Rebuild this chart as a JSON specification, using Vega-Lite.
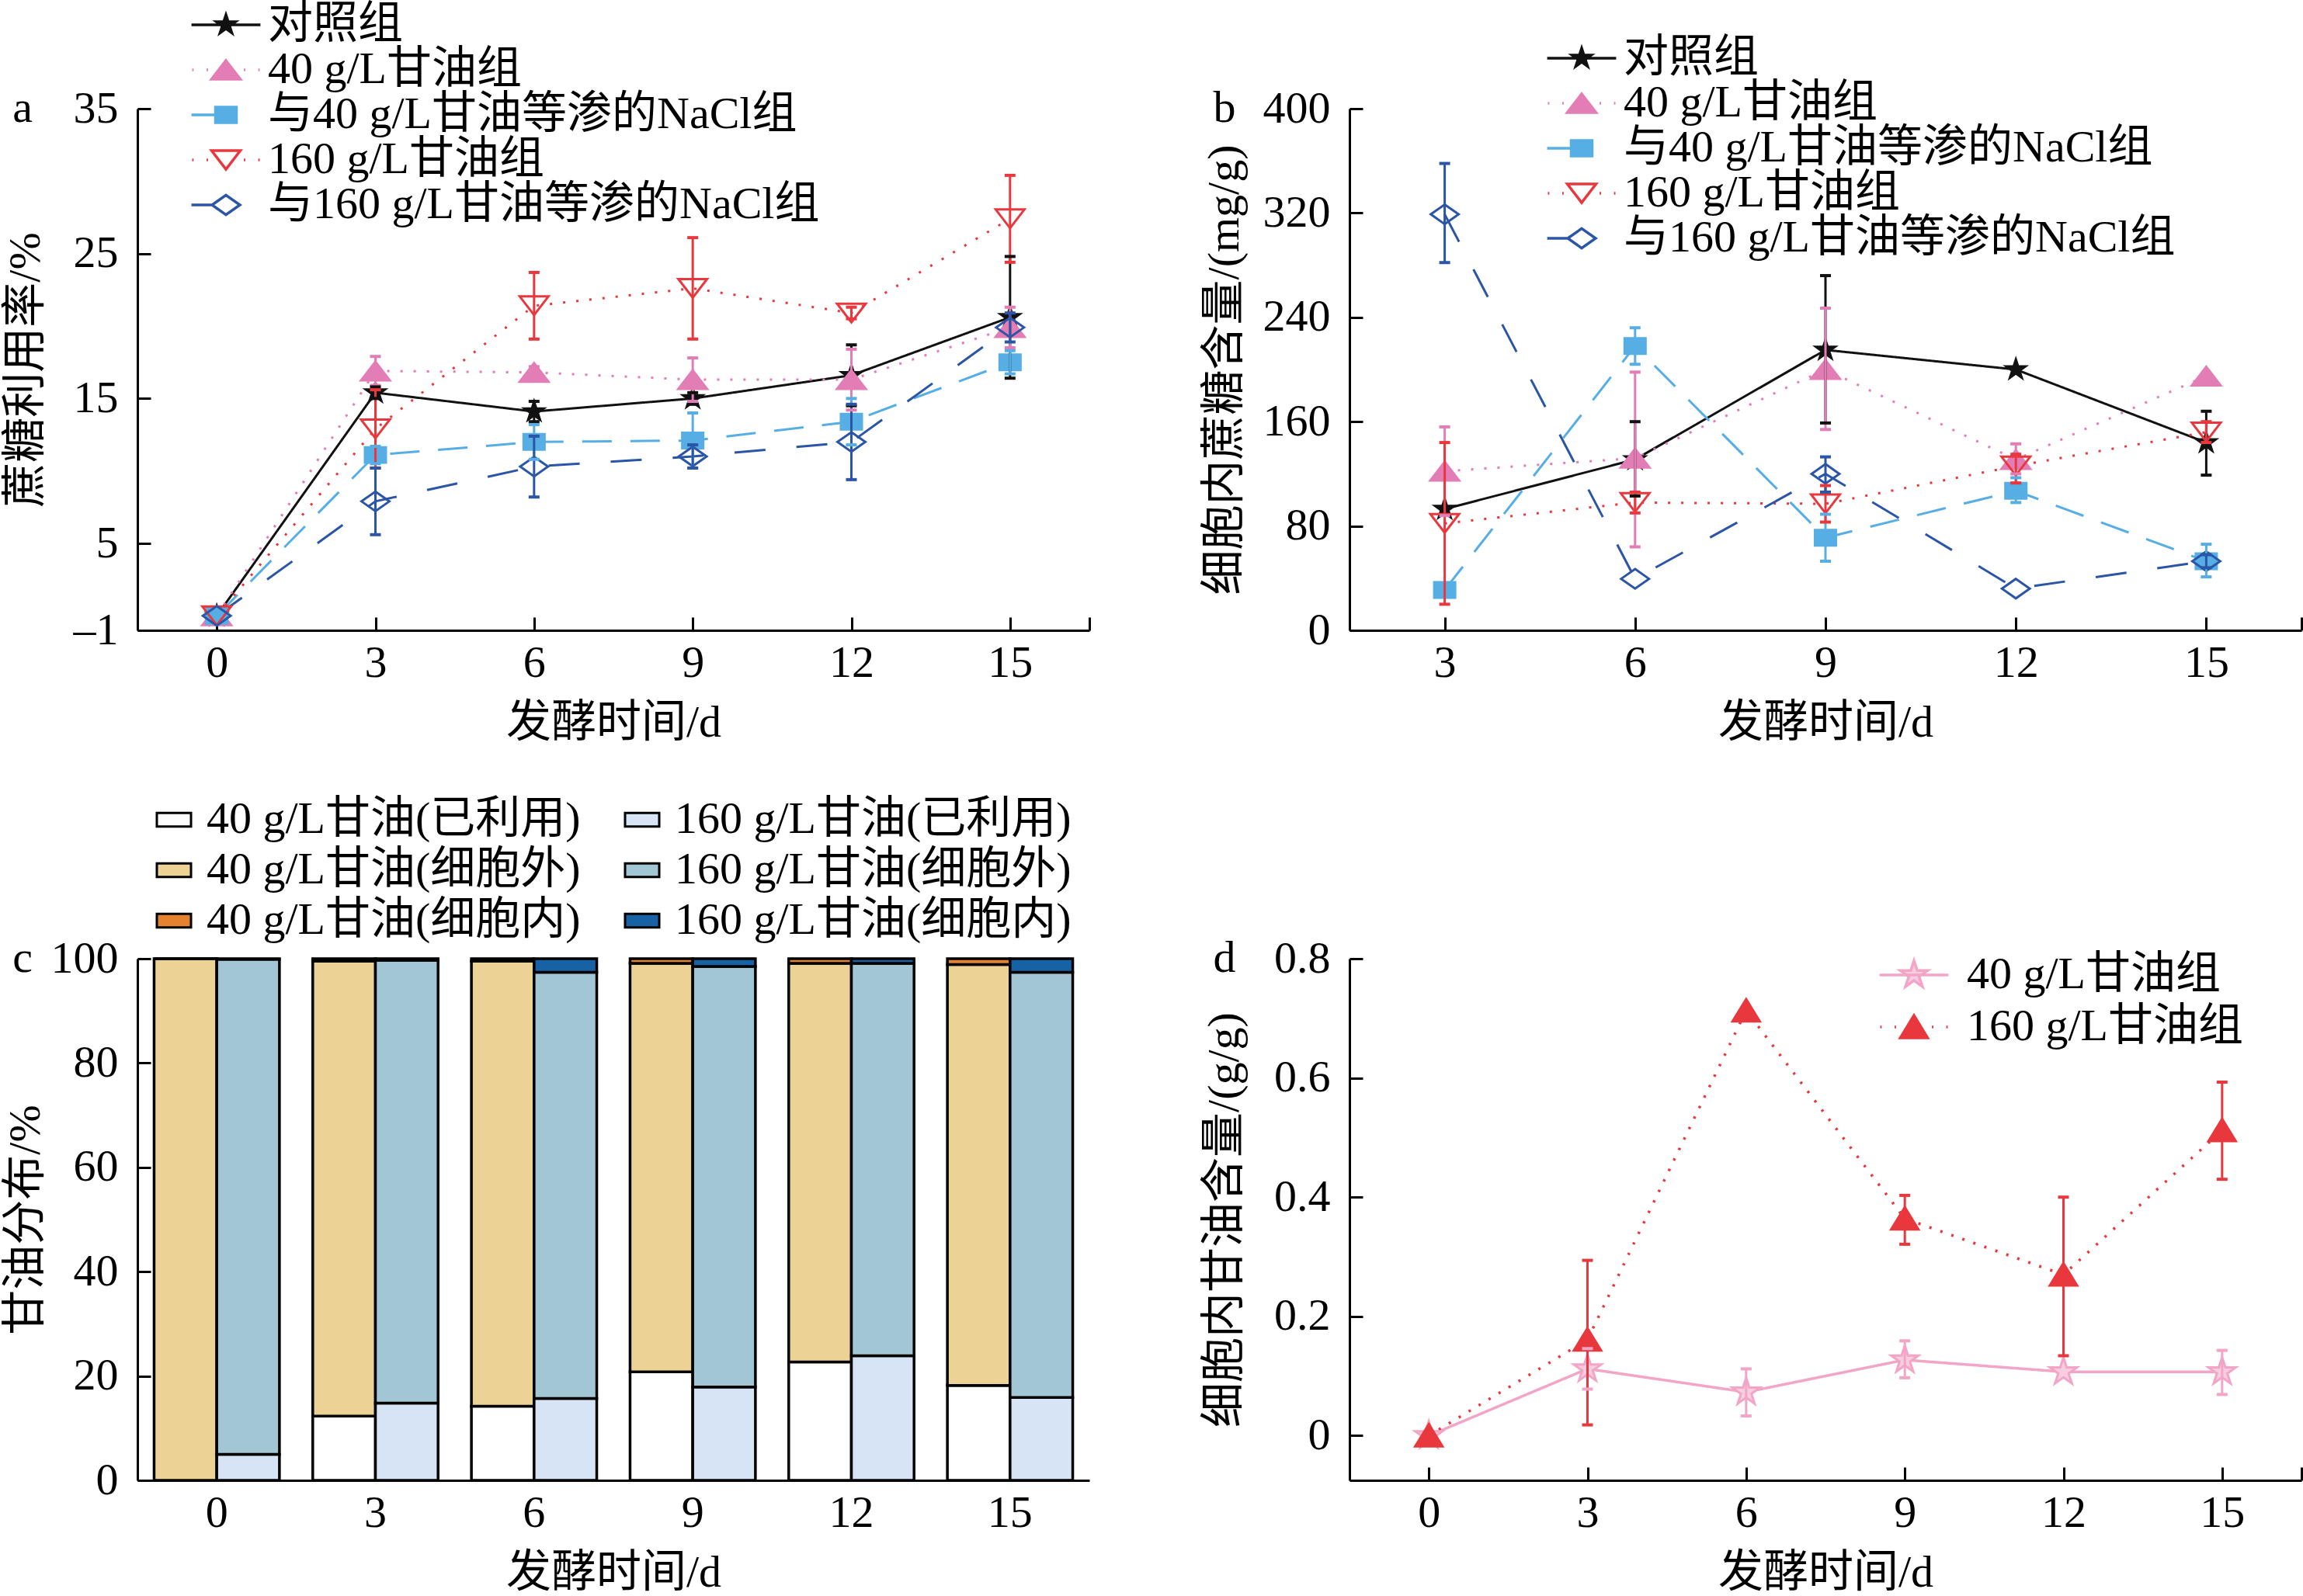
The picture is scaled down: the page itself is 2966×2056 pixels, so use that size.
{
  "$schema": "https://vega.github.io/schema/vega-lite/v6.json",
  "padding": {"left": 4, "top": 3, "right": 0, "bottom": 0},
  "config": {
    "font": "Liberation Serif, Noto Sans CJK SC",
    "view": {"stroke": null},
    "axis": {
      "domainColor": "black", "domainWidth": 3, "tickColor": "black", "tickWidth": 3, "tickSize": -17,
      "labelFont": "Liberation Serif, Noto Sans CJK SC", "labelFontSize": 58, "labelColor": "black",
      "titleFont": "Liberation Serif, Noto Sans CJK SC", "titleFontSize": 58, "titleFontWeight": "normal", "titleColor": "black",
      "grid": false, "labelFlush": false, "labelOverlap": false
    },
    "axisX": {"labelPadding": 30, "titlePadding": 19, "labelAngle": 0},
    "axisY": {"labelPadding": 42},
    "legend": {"labelFont": "Liberation Serif, Noto Sans CJK SC", "labelFontSize": 58, "labelColor": "black", "labelLimit": 0, "padding": 0, "title": null},
    "title": {"font": "Liberation Serif, Noto Sans CJK SC", "fontSize": 58, "fontWeight": "normal", "color": "black"}
  },
  "datasets": {
    "sa": [
      {"d": 0, "g": "对照组", "v": 0, "lo": null, "hi": null},
      {"d": 3, "g": "对照组", "v": 15.4, "lo": 15.0, "hi": 15.8},
      {"d": 6, "g": "对照组", "v": 14.1, "lo": 13.4, "hi": 14.8},
      {"d": 9, "g": "对照组", "v": 15.0, "lo": 14.6, "hi": 15.4},
      {"d": 12, "g": "对照组", "v": 16.6, "lo": 14.5, "hi": 18.7},
      {"d": 15, "g": "对照组", "v": 20.6, "lo": 16.4, "hi": 24.8},
      {"d": 0, "g": "40 g/L甘油组", "v": 0, "lo": null, "hi": null},
      {"d": 3, "g": "40 g/L甘油组", "v": 16.9, "lo": 15.9, "hi": 17.9},
      {"d": 6, "g": "40 g/L甘油组", "v": 16.8, "lo": 16.4, "hi": 17.2},
      {"d": 9, "g": "40 g/L甘油组", "v": 16.3, "lo": 14.8, "hi": 17.8},
      {"d": 12, "g": "40 g/L甘油组", "v": 16.3, "lo": 14.2, "hi": 18.4},
      {"d": 15, "g": "40 g/L甘油组", "v": 19.9, "lo": 18.5, "hi": 21.3},
      {"d": 0, "g": "与40 g/L甘油等渗的NaCl组", "v": 0, "lo": null, "hi": null},
      {"d": 3, "g": "与40 g/L甘油等渗的NaCl组", "v": 11.1, "lo": 10.5, "hi": 11.7},
      {"d": 6, "g": "与40 g/L甘油等渗的NaCl组", "v": 12.0, "lo": 10.8, "hi": 13.2},
      {"d": 9, "g": "与40 g/L甘油等渗的NaCl组", "v": 12.1, "lo": 10.2, "hi": 14.0},
      {"d": 12, "g": "与40 g/L甘油等渗的NaCl组", "v": 13.4, "lo": 11.8, "hi": 15.0},
      {"d": 15, "g": "与40 g/L甘油等渗的NaCl组", "v": 17.5, "lo": 16.7, "hi": 18.3},
      {"d": 0, "g": "160 g/L甘油组", "v": 0, "lo": null, "hi": null},
      {"d": 3, "g": "160 g/L甘油组", "v": 12.9, "lo": 10.2, "hi": 15.6},
      {"d": 6, "g": "160 g/L甘油组", "v": 21.4, "lo": 19.1, "hi": 23.7},
      {"d": 9, "g": "160 g/L甘油组", "v": 22.6, "lo": 19.1, "hi": 26.1},
      {"d": 12, "g": "160 g/L甘油组", "v": 20.9, "lo": 20.5, "hi": 21.3},
      {"d": 15, "g": "160 g/L甘油组", "v": 27.4, "lo": 24.4, "hi": 30.4},
      {"d": 0, "g": "与160 g/L甘油等渗的NaCl组", "v": 0, "lo": null, "hi": null},
      {"d": 3, "g": "与160 g/L甘油等渗的NaCl组", "v": 7.9, "lo": 5.6, "hi": 10.2},
      {"d": 6, "g": "与160 g/L甘油等渗的NaCl组", "v": 10.3, "lo": 8.2, "hi": 12.4},
      {"d": 9, "g": "与160 g/L甘油等渗的NaCl组", "v": 11.0, "lo": 10.2, "hi": 11.8},
      {"d": 12, "g": "与160 g/L甘油等渗的NaCl组", "v": 12.0, "lo": 9.4, "hi": 14.6},
      {"d": 15, "g": "与160 g/L甘油等渗的NaCl组", "v": 19.9, "lo": 18.9, "hi": 20.9}
    ],
    "sb": [
      {"d": 3, "g": "对照组", "v": 93, "lo": null, "hi": null},
      {"d": 6, "g": "对照组", "v": 131, "lo": 103, "hi": 160},
      {"d": 9, "g": "对照组", "v": 215, "lo": 159, "hi": 272},
      {"d": 12, "g": "对照组", "v": 200, "lo": null, "hi": null},
      {"d": 15, "g": "对照组", "v": 144, "lo": 119, "hi": 168},
      {"d": 3, "g": "40 g/L甘油组", "v": 122, "lo": 88, "hi": 156},
      {"d": 6, "g": "40 g/L甘油组", "v": 132, "lo": 64, "hi": 198},
      {"d": 9, "g": "40 g/L甘油组", "v": 200, "lo": 154, "hi": 247},
      {"d": 12, "g": "40 g/L甘油组", "v": 131, "lo": 120, "hi": 143},
      {"d": 15, "g": "40 g/L甘油组", "v": 195, "lo": null, "hi": null},
      {"d": 3, "g": "与40 g/L甘油等渗的NaCl组", "v": 31, "lo": null, "hi": null},
      {"d": 6, "g": "与40 g/L甘油等渗的NaCl组", "v": 218, "lo": 204, "hi": 232},
      {"d": 9, "g": "与40 g/L甘油等渗的NaCl组", "v": 71, "lo": 53, "hi": 89},
      {"d": 12, "g": "与40 g/L甘油等渗的NaCl组", "v": 107, "lo": 98, "hi": 117},
      {"d": 15, "g": "与40 g/L甘油等渗的NaCl组", "v": 53, "lo": 41, "hi": 66},
      {"d": 3, "g": "160 g/L甘油组", "v": 82, "lo": 20, "hi": 144},
      {"d": 6, "g": "160 g/L甘油组", "v": 98, "lo": 90, "hi": 106},
      {"d": 9, "g": "160 g/L甘油组", "v": 97, "lo": 83, "hi": 111},
      {"d": 12, "g": "160 g/L甘油组", "v": 126, "lo": 113, "hi": 135},
      {"d": 15, "g": "160 g/L甘油组", "v": 152, "lo": 144, "hi": 160},
      {"d": 3, "g": "与160 g/L甘油等渗的NaCl组", "v": 319, "lo": 282, "hi": 358},
      {"d": 6, "g": "与160 g/L甘油等渗的NaCl组", "v": 39.5, "lo": null, "hi": null},
      {"d": 9, "g": "与160 g/L甘油等渗的NaCl组", "v": 120, "lo": 106, "hi": 133},
      {"d": 12, "g": "与160 g/L甘油等渗的NaCl组", "v": 32, "lo": null, "hi": null},
      {"d": 15, "g": "与160 g/L甘油等渗的NaCl组", "v": 53, "lo": 48, "hi": 58}
    ],
    "sc": [
      {"d": 0, "conc": "40", "k": 1, "cat": "40 g/L甘油(已利用)", "v": 0},
      {"d": 0, "conc": "40", "k": 2, "cat": "40 g/L甘油(细胞外)", "v": 100},
      {"d": 0, "conc": "40", "k": 3, "cat": "40 g/L甘油(细胞内)", "v": 0},
      {"d": 3, "conc": "40", "k": 1, "cat": "40 g/L甘油(已利用)", "v": 12.3},
      {"d": 3, "conc": "40", "k": 2, "cat": "40 g/L甘油(细胞外)", "v": 87.2},
      {"d": 3, "conc": "40", "k": 3, "cat": "40 g/L甘油(细胞内)", "v": 0.5},
      {"d": 6, "conc": "40", "k": 1, "cat": "40 g/L甘油(已利用)", "v": 14.2},
      {"d": 6, "conc": "40", "k": 2, "cat": "40 g/L甘油(细胞外)", "v": 85.3},
      {"d": 6, "conc": "40", "k": 3, "cat": "40 g/L甘油(细胞内)", "v": 0.5},
      {"d": 9, "conc": "40", "k": 1, "cat": "40 g/L甘油(已利用)", "v": 20.8},
      {"d": 9, "conc": "40", "k": 2, "cat": "40 g/L甘油(细胞外)", "v": 78.3},
      {"d": 9, "conc": "40", "k": 3, "cat": "40 g/L甘油(细胞内)", "v": 0.9},
      {"d": 12, "conc": "40", "k": 1, "cat": "40 g/L甘油(已利用)", "v": 22.7},
      {"d": 12, "conc": "40", "k": 2, "cat": "40 g/L甘油(细胞外)", "v": 76.4},
      {"d": 12, "conc": "40", "k": 3, "cat": "40 g/L甘油(细胞内)", "v": 0.9},
      {"d": 15, "conc": "40", "k": 1, "cat": "40 g/L甘油(已利用)", "v": 18.2},
      {"d": 15, "conc": "40", "k": 2, "cat": "40 g/L甘油(细胞外)", "v": 80.7},
      {"d": 15, "conc": "40", "k": 3, "cat": "40 g/L甘油(细胞内)", "v": 1.1},
      {"d": 0, "conc": "160", "k": 1, "cat": "160 g/L甘油(已利用)", "v": 5.0},
      {"d": 0, "conc": "160", "k": 2, "cat": "160 g/L甘油(细胞外)", "v": 94.9},
      {"d": 0, "conc": "160", "k": 3, "cat": "160 g/L甘油(细胞内)", "v": 0.1},
      {"d": 3, "conc": "160", "k": 1, "cat": "160 g/L甘油(已利用)", "v": 14.8},
      {"d": 3, "conc": "160", "k": 2, "cat": "160 g/L甘油(细胞外)", "v": 84.9},
      {"d": 3, "conc": "160", "k": 3, "cat": "160 g/L甘油(细胞内)", "v": 0.3},
      {"d": 6, "conc": "160", "k": 1, "cat": "160 g/L甘油(已利用)", "v": 15.7},
      {"d": 6, "conc": "160", "k": 2, "cat": "160 g/L甘油(细胞外)", "v": 81.7},
      {"d": 6, "conc": "160", "k": 3, "cat": "160 g/L甘油(细胞内)", "v": 2.6},
      {"d": 9, "conc": "160", "k": 1, "cat": "160 g/L甘油(已利用)", "v": 17.9},
      {"d": 9, "conc": "160", "k": 2, "cat": "160 g/L甘油(细胞外)", "v": 80.6},
      {"d": 9, "conc": "160", "k": 3, "cat": "160 g/L甘油(细胞内)", "v": 1.5},
      {"d": 12, "conc": "160", "k": 1, "cat": "160 g/L甘油(已利用)", "v": 23.9},
      {"d": 12, "conc": "160", "k": 2, "cat": "160 g/L甘油(细胞外)", "v": 75.2},
      {"d": 12, "conc": "160", "k": 3, "cat": "160 g/L甘油(细胞内)", "v": 0.9},
      {"d": 15, "conc": "160", "k": 1, "cat": "160 g/L甘油(已利用)", "v": 15.9},
      {"d": 15, "conc": "160", "k": 2, "cat": "160 g/L甘油(细胞外)", "v": 81.5},
      {"d": 15, "conc": "160", "k": 3, "cat": "160 g/L甘油(细胞内)", "v": 2.6}
    ],
    "sd": [
      {"d": 0, "g": "40 g/L甘油组", "v": 0, "lo": null, "hi": null},
      {"d": 3, "g": "40 g/L甘油组", "v": 0.112, "lo": 0.078, "hi": 0.146},
      {"d": 6, "g": "40 g/L甘油组", "v": 0.073, "lo": 0.033, "hi": 0.112},
      {"d": 9, "g": "40 g/L甘油组", "v": 0.127, "lo": 0.097, "hi": 0.159},
      {"d": 12, "g": "40 g/L甘油组", "v": 0.107, "lo": null, "hi": null},
      {"d": 15, "g": "40 g/L甘油组", "v": 0.107, "lo": 0.069, "hi": 0.143},
      {"d": 0, "g": "160 g/L甘油组", "v": 0, "lo": null, "hi": null},
      {"d": 3, "g": "160 g/L甘油组", "v": 0.161, "lo": 0.018, "hi": 0.294},
      {"d": 6, "g": "160 g/L甘油组", "v": 0.713, "lo": null, "hi": null},
      {"d": 9, "g": "160 g/L甘油组", "v": 0.364, "lo": 0.321, "hi": 0.403},
      {"d": 12, "g": "160 g/L甘油组", "v": 0.27, "lo": 0.134, "hi": 0.4},
      {"d": 15, "g": "160 g/L甘油组", "v": 0.512, "lo": 0.43, "hi": 0.593}
    ]
  },
  "columns": 2,
  "bounds": "flush",
  "spacing": {"row": 423, "column": 335},
  "resolve": {"scale": {"color": "independent", "stroke": "independent", "fill": "independent", "shape": "independent", "strokeDash": "independent"}},
  "concat": [
    {
      "width": 1226, "height": 672,
      "data": {"name": "sa"},
      "title": {"text": "a", "orient": "bottom", "anchor": "start", "frame": "group", "align": "center", "baseline": "middle", "offset": 0, "dx": -148, "dy": -820},
      "resolve": {"scale": {"fill": "independent", "stroke": "independent", "shape": "independent"}},
      "encoding": {
        "x": {"field": "d", "type": "quantitative", "scale": {"domain": [-1.5, 16.5], "nice": false, "zero": false}, "axis": {"title": "发酵时间/d", "values": [0, 3, 6, 9, 12, 15, 16.5], "labelExpr": "datum.value > 16 ? '' : datum.label"}}
      },
      "layer": [
        {
          "mark": {"type": "line", "strokeWidth": 3},
          "encoding": {
            "y": {"field": "v", "type": "quantitative", "scale": {"domain": [-1, 35], "nice": false, "zero": false}, "axis": {"title": "蔗糖利用率/%", "values": [-1, 5, 15, 25, 35], "labelExpr": "datum.value < 0 ? '–1' : datum.label", "titlePadding": 32}},
            "color": {"field": "g", "type": "nominal", "legend": null,
              "scale": {"domain": ["对照组", "40 g/L甘油组", "与40 g/L甘油等渗的NaCl组", "160 g/L甘油组", "与160 g/L甘油等渗的NaCl组"], "range": ["#111111", "#E37DB5", "#56AEE4", "#E8383D", "#2B55A6"]}},
            "strokeDash": {"field": "g", "type": "nominal", "legend": null,
              "scale": {"domain": ["对照组", "40 g/L甘油组", "与40 g/L甘油等渗的NaCl组", "160 g/L甘油组", "与160 g/L甘油等渗的NaCl组"], "range": [[1, 0], [3, 14], [38, 24], [3, 14], [40, 40]]}}
          }
        },
        {
          "mark": {"type": "point", "size": 1369, "strokeWidth": 3, "opacity": 1, "filled": true},
          "encoding": {
            "y": {"field": "v", "type": "quantitative", "scale": {"domain": [-1, 35], "nice": false, "zero": false}},
            "shape": {"field": "g", "type": "nominal", "legend": null,
              "scale": {"domain": ["对照组", "40 g/L甘油组", "与40 g/L甘油等渗的NaCl组", "160 g/L甘油组", "与160 g/L甘油等渗的NaCl组"],
                "range": ["M0,-0.7L0.157,-0.216L0.666,-0.216L0.254,0.083L0.412,0.566L0,0.267L-0.412,0.566L-0.254,0.083L-0.666,-0.216L-0.157,-0.216Z", "M0,-0.65L1,0.65L-1,0.65Z", "M-0.73,-0.54H0.73V0.54H-0.73Z", "M-1,-0.65L1,-0.65L0,0.65Z", "M0,-0.68L0.97,0L0,0.68L-0.97,0Z"]}},
            "fill": {"field": "g", "type": "nominal", "legend": null,
              "scale": {"domain": ["对照组", "40 g/L甘油组", "与40 g/L甘油等渗的NaCl组", "160 g/L甘油组", "与160 g/L甘油等渗的NaCl组"], "range": ["#111111", "#E37DB5", "#56AEE4", "transparent", "transparent"]}},
            "stroke": {"field": "g", "type": "nominal", "legend": null,
              "scale": {"domain": ["对照组", "40 g/L甘油组", "与40 g/L甘油等渗的NaCl组", "160 g/L甘油组", "与160 g/L甘油等渗的NaCl组"], "range": ["#111111", "#E37DB5", "#56AEE4", "#E8383D", "#2B55A6"]}}
          }
        },
        {
          "mark": {"type": "rule", "strokeWidth": 3},
          "encoding": {
            "y": {"field": "lo", "type": "quantitative", "scale": {"domain": [-1, 35], "nice": false, "zero": false}},
            "y2": {"field": "hi"},
            "stroke": {"field": "g", "type": "nominal", "legend": null,
              "scale": {"domain": ["对照组", "40 g/L甘油组", "与40 g/L甘油等渗的NaCl组", "160 g/L甘油组", "与160 g/L甘油等渗的NaCl组"], "range": ["#111111", "#E37DB5", "#56AEE4", "#E8383D", "#2B55A6"]}}
          }
        },
        {
          "mark": {"type": "point", "shape": "stroke", "size": 196, "strokeWidth": 4, "opacity": 1},
          "encoding": {
            "y": {"field": "lo", "type": "quantitative", "scale": {"domain": [-1, 35], "nice": false, "zero": false}},
            "stroke": {"field": "g", "type": "nominal", "legend": null,
              "scale": {"domain": ["对照组", "40 g/L甘油组", "与40 g/L甘油等渗的NaCl组", "160 g/L甘油组", "与160 g/L甘油等渗的NaCl组"], "range": ["#111111", "#E37DB5", "#56AEE4", "#E8383D", "#2B55A6"]}}
          }
        },
        {
          "mark": {"type": "point", "shape": "stroke", "size": 196, "strokeWidth": 4, "opacity": 1},
          "encoding": {
            "y": {"field": "hi", "type": "quantitative", "scale": {"domain": [-1, 35], "nice": false, "zero": false}},
            "stroke": {"field": "g", "type": "nominal", "legend": null,
              "scale": {"domain": ["对照组", "40 g/L甘油组", "与40 g/L甘油等渗的NaCl组", "160 g/L甘油组", "与160 g/L甘油等渗的NaCl组"], "range": ["#111111", "#E37DB5", "#56AEE4", "#E8383D", "#2B55A6"]}}
          }
        },
        {
          "transform": [{"filter": "false"}],
          "mark": {"type": "point", "size": 1369, "strokeWidth": 3.5, "opacity": 1, "filled": true},
          "encoding": {
            "y": {"field": "v", "type": "quantitative", "scale": {"domain": [-1, 35], "nice": false, "zero": false}},
            "shape": {"field": "g", "type": "nominal",
              "scale": {"domain": ["对照组", "40 g/L甘油组", "与40 g/L甘油等渗的NaCl组", "160 g/L甘油组", "与160 g/L甘油等渗的NaCl组"],
                "range": ["M-2.4,0H2.4M0,-0.7L0.157,-0.216L0.666,-0.216L0.254,0.083L0.412,0.566L0,0.267L-0.412,0.566L-0.254,0.083L-0.666,-0.216L-0.157,-0.216Z", "M-2.35,0h0.1M-1.35,0h0.1M1.25,0h0.1M2.25,0h0.1M0,-0.65L1,0.65L-1,0.65Z", "M-2.4,0H-0.73M-0.73,-0.54H0.73V0.54H-0.73Z", "M-2.35,0h0.1M-1.35,0h0.1M1.25,0h0.1M2.25,0h0.1M-1,-0.65L1,-0.65L0,0.65Z", "M-2.4,0H-0.97M0,-0.68L0.97,0L0,0.68L-0.97,0Z"]},
              "legend": {"orient": "none", "legendX": 85, "legendY": -137, "symbolSize": 1369, "symbolStrokeWidth": 3.5, "symbolOpacity": 1, "labelOffset": 25, "rowPadding": 0}},
            "fill": {"field": "g", "type": "nominal",
              "scale": {"domain": ["对照组", "40 g/L甘油组", "与40 g/L甘油等渗的NaCl组", "160 g/L甘油组", "与160 g/L甘油等渗的NaCl组"], "range": ["#111111", "#E37DB5", "#56AEE4", "white", "white"]},
              "legend": {"orient": "none", "legendX": 85, "legendY": -137, "symbolSize": 1369, "symbolStrokeWidth": 3.5, "symbolOpacity": 1, "labelOffset": 25, "rowPadding": 0}},
            "stroke": {"field": "g", "type": "nominal",
              "scale": {"domain": ["对照组", "40 g/L甘油组", "与40 g/L甘油等渗的NaCl组", "160 g/L甘油组", "与160 g/L甘油等渗的NaCl组"], "range": ["#111111", "#E37DB5", "#56AEE4", "#E8383D", "#2B55A6"]},
              "legend": {"orient": "none", "legendX": 85, "legendY": -137, "symbolSize": 1369, "symbolStrokeWidth": 3.5, "symbolOpacity": 1, "labelOffset": 25, "rowPadding": 0}}
          }
        }
      ]
    },
    {
      "width": 1226, "height": 672,
      "data": {"name": "sb"},
      "title": {"text": "b", "orient": "bottom", "anchor": "start", "frame": "group", "align": "center", "baseline": "middle", "offset": 0, "dx": -161, "dy": -820},
      "resolve": {"scale": {"fill": "independent", "stroke": "independent", "shape": "independent"}},
      "encoding": {
        "x": {"field": "d", "type": "quantitative", "scale": {"domain": [1.5, 16.5], "nice": false, "zero": false}, "axis": {"title": "发酵时间/d", "values": [3, 6, 9, 12, 15, 16.5], "labelExpr": "datum.value > 16 ? '' : datum.label"}}
      },
      "layer": [
        {
          "mark": {"type": "line", "strokeWidth": 3},
          "encoding": {
            "y": {"field": "v", "type": "quantitative", "scale": {"domain": [0, 400], "nice": false}, "axis": {"title": "细胞内蔗糖含量/(mg/g)", "values": [0, 80, 160, 240, 320, 400], "titlePadding": 20}},
            "color": {"field": "g", "type": "nominal", "legend": null,
              "scale": {"domain": ["对照组", "40 g/L甘油组", "与40 g/L甘油等渗的NaCl组", "160 g/L甘油组", "与160 g/L甘油等渗的NaCl组"], "range": ["#111111", "#E37DB5", "#56AEE4", "#E8383D", "#2B55A6"]}},
            "strokeDash": {"field": "g", "type": "nominal", "legend": null,
              "scale": {"domain": ["对照组", "40 g/L甘油组", "与40 g/L甘油等渗的NaCl组", "160 g/L甘油组", "与160 g/L甘油等渗的NaCl组"], "range": [[1, 0], [3, 14], [38, 24], [3, 14], [40, 40]]}}
          }
        },
        {
          "mark": {"type": "point", "size": 1369, "strokeWidth": 3, "opacity": 1, "filled": true},
          "encoding": {
            "y": {"field": "v", "type": "quantitative", "scale": {"domain": [0, 400], "nice": false}},
            "shape": {"field": "g", "type": "nominal", "legend": null,
              "scale": {"domain": ["对照组", "40 g/L甘油组", "与40 g/L甘油等渗的NaCl组", "160 g/L甘油组", "与160 g/L甘油等渗的NaCl组"],
                "range": ["M0,-0.7L0.157,-0.216L0.666,-0.216L0.254,0.083L0.412,0.566L0,0.267L-0.412,0.566L-0.254,0.083L-0.666,-0.216L-0.157,-0.216Z", "M0,-0.65L1,0.65L-1,0.65Z", "M-0.73,-0.54H0.73V0.54H-0.73Z", "M-1,-0.65L1,-0.65L0,0.65Z", "M0,-0.68L0.97,0L0,0.68L-0.97,0Z"]}},
            "fill": {"field": "g", "type": "nominal", "legend": null,
              "scale": {"domain": ["对照组", "40 g/L甘油组", "与40 g/L甘油等渗的NaCl组", "160 g/L甘油组", "与160 g/L甘油等渗的NaCl组"], "range": ["#111111", "#E37DB5", "#56AEE4", "transparent", "transparent"]}},
            "stroke": {"field": "g", "type": "nominal", "legend": null,
              "scale": {"domain": ["对照组", "40 g/L甘油组", "与40 g/L甘油等渗的NaCl组", "160 g/L甘油组", "与160 g/L甘油等渗的NaCl组"], "range": ["#111111", "#E37DB5", "#56AEE4", "#E8383D", "#2B55A6"]}}
          }
        },
        {
          "mark": {"type": "rule", "strokeWidth": 3},
          "encoding": {
            "y": {"field": "lo", "type": "quantitative", "scale": {"domain": [0, 400], "nice": false}},
            "y2": {"field": "hi"},
            "stroke": {"field": "g", "type": "nominal", "legend": null,
              "scale": {"domain": ["对照组", "40 g/L甘油组", "与40 g/L甘油等渗的NaCl组", "160 g/L甘油组", "与160 g/L甘油等渗的NaCl组"], "range": ["#111111", "#E37DB5", "#56AEE4", "#E8383D", "#2B55A6"]}}
          }
        },
        {
          "mark": {"type": "point", "shape": "stroke", "size": 196, "strokeWidth": 4, "opacity": 1},
          "encoding": {
            "y": {"field": "lo", "type": "quantitative", "scale": {"domain": [0, 400], "nice": false}},
            "stroke": {"field": "g", "type": "nominal", "legend": null,
              "scale": {"domain": ["对照组", "40 g/L甘油组", "与40 g/L甘油等渗的NaCl组", "160 g/L甘油组", "与160 g/L甘油等渗的NaCl组"], "range": ["#111111", "#E37DB5", "#56AEE4", "#E8383D", "#2B55A6"]}}
          }
        },
        {
          "mark": {"type": "point", "shape": "stroke", "size": 196, "strokeWidth": 4, "opacity": 1},
          "encoding": {
            "y": {"field": "hi", "type": "quantitative", "scale": {"domain": [0, 400], "nice": false}},
            "stroke": {"field": "g", "type": "nominal", "legend": null,
              "scale": {"domain": ["对照组", "40 g/L甘油组", "与40 g/L甘油等渗的NaCl组", "160 g/L甘油组", "与160 g/L甘油等渗的NaCl组"], "range": ["#111111", "#E37DB5", "#56AEE4", "#E8383D", "#2B55A6"]}}
          }
        },
        {
          "transform": [{"filter": "false"}],
          "mark": {"type": "point", "size": 1369, "strokeWidth": 3.5, "opacity": 1, "filled": true},
          "encoding": {
            "y": {"field": "v", "type": "quantitative", "scale": {"domain": [0, 400], "nice": false}},
            "shape": {"field": "g", "type": "nominal",
              "scale": {"domain": ["对照组", "40 g/L甘油组", "与40 g/L甘油等渗的NaCl组", "160 g/L甘油组", "与160 g/L甘油等渗的NaCl组"],
                "range": ["M-2.4,0H2.4M0,-0.7L0.157,-0.216L0.666,-0.216L0.254,0.083L0.412,0.566L0,0.267L-0.412,0.566L-0.254,0.083L-0.666,-0.216L-0.157,-0.216Z", "M-2.35,0h0.1M-1.35,0h0.1M1.25,0h0.1M2.25,0h0.1M0,-0.65L1,0.65L-1,0.65Z", "M-2.4,0H-0.73M-0.73,-0.54H0.73V0.54H-0.73Z", "M-2.35,0h0.1M-1.35,0h0.1M1.25,0h0.1M2.25,0h0.1M-1,-0.65L1,-0.65L0,0.65Z", "M-2.4,0H-0.97M0,-0.68L0.97,0L0,0.68L-0.97,0Z"]},
              "legend": {"orient": "none", "legendX": 270, "legendY": -94, "symbolSize": 1369, "symbolStrokeWidth": 3.5, "symbolOpacity": 1, "labelOffset": 25, "rowPadding": 0}},
            "fill": {"field": "g", "type": "nominal",
              "scale": {"domain": ["对照组", "40 g/L甘油组", "与40 g/L甘油等渗的NaCl组", "160 g/L甘油组", "与160 g/L甘油等渗的NaCl组"], "range": ["#111111", "#E37DB5", "#56AEE4", "white", "white"]},
              "legend": {"orient": "none", "legendX": 270, "legendY": -94, "symbolSize": 1369, "symbolStrokeWidth": 3.5, "symbolOpacity": 1, "labelOffset": 25, "rowPadding": 0}},
            "stroke": {"field": "g", "type": "nominal",
              "scale": {"domain": ["对照组", "40 g/L甘油组", "与40 g/L甘油等渗的NaCl组", "160 g/L甘油组", "与160 g/L甘油等渗的NaCl组"], "range": ["#111111", "#E37DB5", "#56AEE4", "#E8383D", "#2B55A6"]},
              "legend": {"orient": "none", "legendX": 270, "legendY": -94, "symbolSize": 1369, "symbolStrokeWidth": 3.5, "symbolOpacity": 1, "labelOffset": 25, "rowPadding": 0}}
          }
        }
      ]
    },
    {
      "width": 1226, "height": 672,
      "data": {"name": "sc"},
      "title": {"text": "c", "orient": "bottom", "anchor": "start", "frame": "group", "align": "center", "baseline": "middle", "offset": 0, "dx": -148, "dy": -820},
      "mark": {"type": "bar", "stroke": "black", "strokeWidth": 3.5},
      "encoding": {
        "x": {"field": "d", "type": "ordinal", "scale": {"paddingInner": 0.21, "paddingOuter": 0.105}, "axis": {"title": "发酵时间/d"}},
        "xOffset": {"field": "conc", "type": "nominal", "scale": {"domain": ["40", "160"], "paddingInner": 0, "paddingOuter": 0}},
        "y": {"field": "v", "type": "quantitative", "stack": "zero", "scale": {"domain": [0, 100], "nice": false}, "axis": {"title": "甘油分布/%", "values": [0, 20, 40, 60, 80, 100], "titlePadding": 3}},
        "color": {"field": "cat", "type": "nominal",
          "scale": {"domain": ["40 g/L甘油(已利用)", "40 g/L甘油(细胞外)", "40 g/L甘油(细胞内)", "160 g/L甘油(已利用)", "160 g/L甘油(细胞外)", "160 g/L甘油(细胞内)"],
            "range": ["#FFFFFF", "#EDD296", "#E5822E", "#D6E4F5", "#A3C6D4", "#1761A5"]},
          "legend": {"orient": "none", "legendX": 18, "legendY": -208, "columns": 2, "columnPadding": 50, "rowPadding": 7,
            "symbolType": "M-1,-0.4H1V0.4H-1Z", "symbolSize": 1936, "symbolStrokeColor": "black", "symbolStrokeWidth": 3, "labelOffset": 13}},
        "order": {"field": "k", "type": "quantitative"}
      }
    },
    {
      "width": 1226, "height": 672,
      "data": {"name": "sd"},
      "title": {"text": "d", "orient": "bottom", "anchor": "start", "frame": "group", "align": "center", "baseline": "middle", "offset": 0, "dx": -161, "dy": -820},
      "resolve": {"scale": {"fill": "independent", "stroke": "independent", "shape": "independent"}},
      "encoding": {
        "x": {"field": "d", "type": "quantitative", "scale": {"domain": [-1.5, 16.5], "nice": false, "zero": false}, "axis": {"title": "发酵时间/d", "values": [0, 3, 6, 9, 12, 15, 16.5], "labelExpr": "datum.value > 16 ? '' : datum.label"}}
      },
      "layer": [
        {
          "mark": {"type": "line", "strokeWidth": 3.5},
          "encoding": {
            "y": {"field": "v", "type": "quantitative", "scale": {"domain": [-0.075, 0.8], "nice": false, "zero": false}, "axis": {"title": "细胞内甘油含量/(g/g)", "values": [0, 0.2, 0.4, 0.6, 0.8], "format": "~g", "titlePadding": 34}},
            "color": {"field": "g", "type": "nominal", "legend": null,
              "scale": {"domain": ["40 g/L甘油组", "160 g/L甘油组"], "range": ["#F2A5C7", "#E8383D"]}},
            "strokeDash": {"field": "g", "type": "nominal", "legend": null,
              "scale": {"domain": ["40 g/L甘油组", "160 g/L甘油组"], "range": [[1, 0], [3, 12]]}}
          }
        },
        {
          "mark": {"type": "point", "size": 1369, "strokeWidth": 3, "opacity": 1, "filled": true},
          "encoding": {
            "y": {"field": "v", "type": "quantitative", "scale": {"domain": [-0.075, 0.8], "nice": false, "zero": false}},
            "shape": {"field": "g", "type": "nominal", "legend": null,
              "scale": {"domain": ["40 g/L甘油组", "160 g/L甘油组"],
                "range": ["M0,-1L0.2245,-0.309L0.951,-0.309L0.363,0.118L0.588,0.809L0,0.382L-0.588,0.809L-0.363,0.118L-0.951,-0.309L-0.2245,-0.309Z", "M0,-0.8L0.95,0.75L-0.95,0.75Z"]}},
            "fill": {"field": "g", "type": "nominal", "legend": null,
              "scale": {"domain": ["40 g/L甘油组", "160 g/L甘油组"], "range": ["#F8CDE0", "#E8383D"]}},
            "stroke": {"field": "g", "type": "nominal", "legend": null,
              "scale": {"domain": ["40 g/L甘油组", "160 g/L甘油组"], "range": ["#F2A5C7", "#E8383D"]}}
          }
        },
        {
          "mark": {"type": "rule", "strokeWidth": 3},
          "encoding": {
            "y": {"field": "lo", "type": "quantitative", "scale": {"domain": [-0.075, 0.8], "nice": false, "zero": false}},
            "y2": {"field": "hi"},
            "stroke": {"field": "g", "type": "nominal", "legend": null,
              "scale": {"domain": ["40 g/L甘油组", "160 g/L甘油组"], "range": ["#F2A5C7", "#E8383D"]}}
          }
        },
        {
          "mark": {"type": "point", "shape": "stroke", "size": 196, "strokeWidth": 4, "opacity": 1},
          "encoding": {
            "y": {"field": "lo", "type": "quantitative", "scale": {"domain": [-0.075, 0.8], "nice": false, "zero": false}},
            "stroke": {"field": "g", "type": "nominal", "legend": null,
              "scale": {"domain": ["40 g/L甘油组", "160 g/L甘油组"], "range": ["#F2A5C7", "#E8383D"]}}
          }
        },
        {
          "mark": {"type": "point", "shape": "stroke", "size": 196, "strokeWidth": 4, "opacity": 1},
          "encoding": {
            "y": {"field": "hi", "type": "quantitative", "scale": {"domain": [-0.075, 0.8], "nice": false, "zero": false}},
            "stroke": {"field": "g", "type": "nominal", "legend": null,
              "scale": {"domain": ["40 g/L甘油组", "160 g/L甘油组"], "range": ["#F2A5C7", "#E8383D"]}}
          }
        },
        {
          "transform": [{"filter": "false"}],
          "mark": {"type": "point", "size": 1369, "strokeWidth": 3.5, "opacity": 1, "filled": true},
          "encoding": {
            "y": {"field": "v", "type": "quantitative", "scale": {"domain": [-0.075, 0.8], "nice": false, "zero": false}},
            "shape": {"field": "g", "type": "nominal",
              "scale": {"domain": ["40 g/L甘油组", "160 g/L甘油组"],
                "range": ["M-2.4,0H2.4M0,-1L0.2245,-0.309L0.951,-0.309L0.363,0.118L0.588,0.809L0,0.382L-0.588,0.809L-0.363,0.118L-0.951,-0.309L-0.2245,-0.309Z", "M-2.35,0h0.1M-1.35,0h0.1M1.25,0h0.1M2.25,0h0.1M0,-0.8L0.95,0.75L-0.95,0.75Z"]},
              "legend": {"orient": "none", "legendX": 698, "legendY": -8, "symbolSize": 1369, "symbolStrokeWidth": 3.5, "symbolOpacity": 1, "labelOffset": 39, "rowPadding": 9}},
            "fill": {"field": "g", "type": "nominal",
              "scale": {"domain": ["40 g/L甘油组", "160 g/L甘油组"], "range": ["#F8CDE0", "#E8383D"]},
              "legend": {"orient": "none", "legendX": 698, "legendY": -8, "symbolSize": 1369, "symbolStrokeWidth": 3.5, "symbolOpacity": 1, "labelOffset": 39, "rowPadding": 9}},
            "stroke": {"field": "g", "type": "nominal",
              "scale": {"domain": ["40 g/L甘油组", "160 g/L甘油组"], "range": ["#F2A5C7", "#E8383D"]},
              "legend": {"orient": "none", "legendX": 698, "legendY": -8, "symbolSize": 1369, "symbolStrokeWidth": 3.5, "symbolOpacity": 1, "labelOffset": 39, "rowPadding": 9}}
          }
        }
      ]
    }
  ]
}
